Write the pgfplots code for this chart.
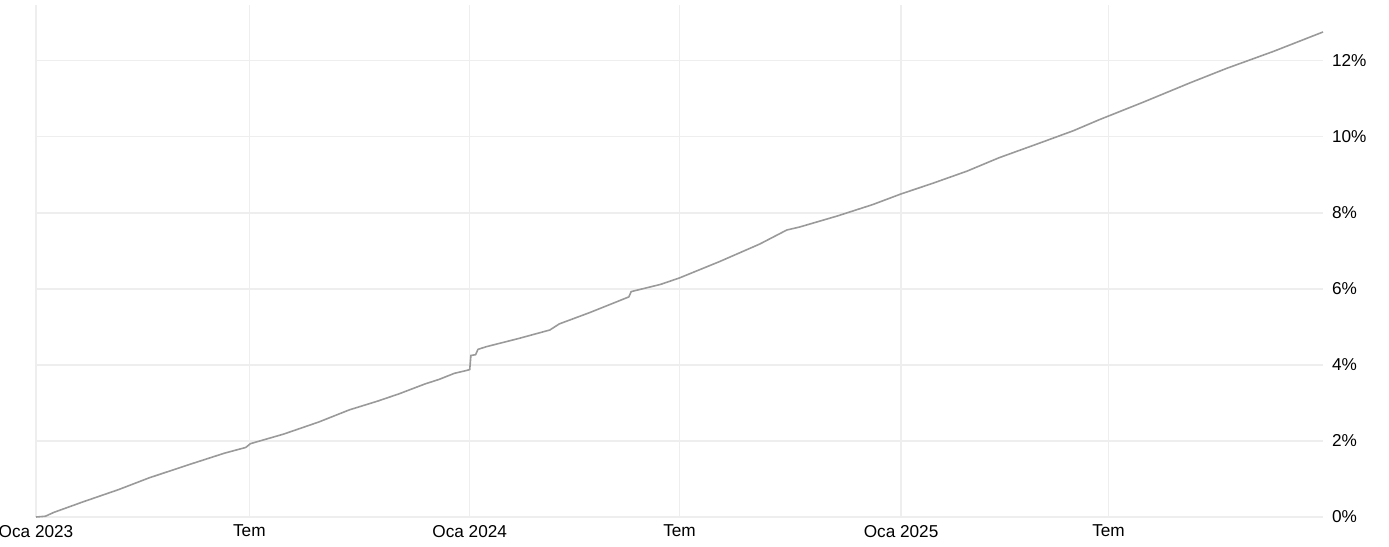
\documentclass[border=0pt]{standalone}
\usepackage{fontspec}
\setmainfont{Liberation Sans}
\usepackage{pgfplots}
\pgfplotsset{compat=1.18}
\definecolor{gridc}{HTML}{EEEEEE}
\definecolor{linec}{HTML}{9A9A9A}
\begin{document}
\begin{tikzpicture}
\begin{axis}[
  name=ax,
  scale only axis,
  width=643.5pt, height=256pt,
  xmin=0, xmax=1092,
  ymin=0, ymax=13.47,
  xtick={0,181,368,546,734,910},
  xticklabels={Oca 2023,Tem,Oca 2024,Tem,Oca 2025,Tem},
  ytick={0,2,4,6,8,10,12},
  yticklabel pos=right,
  yticklabel={\pgfmathprintnumber{\tick}\%},
  /pgf/number format/assume math mode=true,
  tick label style={font=\fontsize{8.6}{10}\selectfont, text=black},
  y tick label style={xshift=1pt},
  x tick label style={yshift=-0.5pt},
  major tick length=0pt,
  axis line style={draw=none},
  grid=major,
  major grid style={draw=gridc, line width=0.6pt},
  clip=false,
]
\addplot[color=linec, line width=0.8pt, mark=none] coordinates {
(0,0.00) (8,0.02) (15,0.12) (40,0.40) (70,0.72) (96,1.03) (130,1.38)
(160,1.68) (178,1.83) (182,1.93) (210,2.18) (240,2.50) (266,2.82)
(290,3.05) (308,3.24) (330,3.50) (342,3.62) (355,3.78) (366,3.86)
(368,3.88) (369,4.25) (373,4.27) (375,4.41) (382,4.48) (410,4.70)
(436,4.92) (444,5.08) (470,5.38) (503,5.79) (505,5.93) (530,6.12)
(546,6.29) (580,6.72) (614,7.18) (637,7.55) (648,7.63) (680,7.92)
(710,8.22) (734,8.50) (760,8.77) (790,9.10) (817,9.45) (850,9.82)
(880,10.16) (902,10.45) (940,10.92) (979,11.42) (1010,11.80)
(1050,12.25) (1092,12.76)
};
\end{axis}
\pgfresetboundingbox
\useasboundingbox ([xshift=-18pt,yshift=-14.5pt]ax.south west) rectangle ([xshift=33pt,yshift=2.5pt]ax.north east);
\end{tikzpicture}
\end{document}
